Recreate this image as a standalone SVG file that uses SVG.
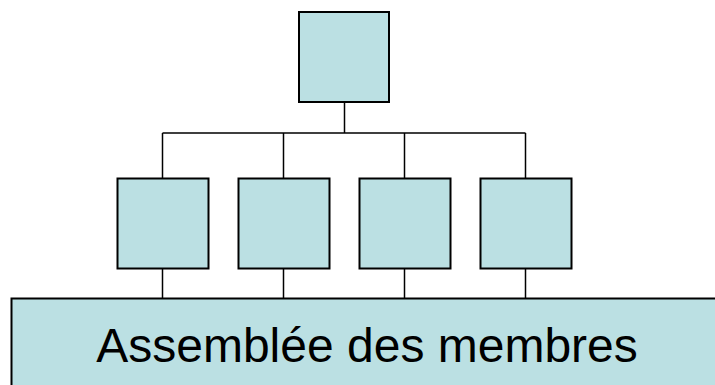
<svg xmlns="http://www.w3.org/2000/svg" width="715" height="385" viewBox="0 0 715 385">
<style>
.box{fill:#BBE0E3;stroke:#000;stroke-width:2}
.line{fill:none;stroke:#000;stroke-width:1.5}
.lbl{font-family:"Liberation Sans",Arial,sans-serif;font-size:48px;fill:#000}
</style>
<rect width="715" height="385" fill="#fff"/>
<g id="connectors">
<path class="line" d="M344.5 102V133M162.5 133H525.5M162.5 133V178.5M283.5 133V178.5M404.5 133V178.5M525.5 133V178.5"/>
<path class="line" d="M162.5 268.5V298.5M283.5 268.5V298.5M404.5 268.5V298.5M525.5 268.5V298.5"/>
</g>
<g id="top"><rect class="box" x="299" y="12" width="90" height="90"/></g>
<g id="c1"><rect class="box" x="117.5" y="178.5" width="91" height="90"/></g>
<g id="c2"><rect class="box" x="238.5" y="178.5" width="91" height="90"/></g>
<g id="c3"><rect class="box" x="359.5" y="178.5" width="91" height="90"/></g>
<g id="c4"><rect class="box" x="480.5" y="178.5" width="91" height="90"/></g>
<g id="assembly">
<rect class="box" x="11.5" y="298.5" width="720" height="100"/>
<text class="lbl" x="367" y="362" text-anchor="middle">Assemblée des membres</text>
</g>
</svg>
